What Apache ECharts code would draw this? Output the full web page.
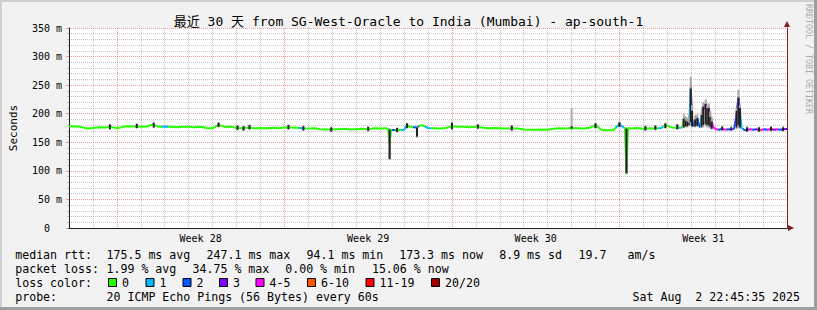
<!DOCTYPE html>
<html>
<head>
<meta charset="utf-8">
<script src="https://cdn.jsdelivr.net/npm/echarts@6/dist/echarts.min.js"></script>
<style>
html,body{margin:0;padding:0;background:#f2f2f2;}
#c{width:817px;height:310px;}
</style>
</head>
<body>
<div id="c"></div>
<script>
// ---------------- data ----------------
const titleText = '最近 30 天 from SG-West-Oracle to India (Mumbai) - ap-south-1';
const yTickValues = [0, 50, 100, 150, 200, 250, 300, 350];
const yTickLabels = ['0  ', '50 m', '100 m', '150 m', '200 m', '250 m', '300 m', '350 m'];
const weekLabels = ['Week 28', 'Week 29', 'Week 30', 'Week 31'];
const weekCenters = [5.5, 12.5, 19.5, 26.5];
const mondayDays = [2, 9, 16, 23];

// median rtt (days since left edge of graph, ms, lost pings of 20)
const medDay = [
  0,0.25,0.5,0.75,1,1.25,1.5,1.75,2,2.25,
  2.5,2.75,3,3.25,3.5,3.75,4,4.25,4.5,4.75,
  5,5.25,5.5,5.75,6,6.25,6.5,6.75,7,7.25,
  7.5,7.75,8,8.25,8.5,8.75,9,9.25,9.5,9.75,
  10,10.25,10.5,10.75,11,11.25,11.5,11.75,12,12.25,
  12.5,12.75,13,13.25,13.333,13.396,13.458,13.5,13.75,14,
  14.125,14.25,14.5,14.75,15,15.25,15.5,15.75,16,16.25,
  16.5,16.75,17,17.25,17.5,17.75,18,18.25,18.5,18.75,
  19,19.25,19.5,19.75,20,20.25,20.5,20.75,21,21.25,
  21.5,21.75,22,22.25,22.5,22.75,23,23.167,23.229,23.292,
  23.354,23.5,23.75,24,24.25,24.5,24.75,24.917,25.167,25.417,
  25.542,25.625,25.688,25.771,25.833,25.917,25.979,26.033,26.083,26.167,
  26.25,26.313,26.375,26.438,26.5,26.563,26.604,26.667,26.729,26.792,
  26.854,26.917,27.042,27.167,27.292,27.417,27.542,27.667,27.792,27.896,
  27.971,28.033,28.104,28.208,28.333,28.458,28.583,28.708,28.833,28.958,
  29.083,29.208,29.333,29.458,29.583,29.708,29.833,29.958,30
];
const medMs = [
  178,177.5,177,174,175,176.5,176,177,174.5,177,
  178,177.5,177,177.5,181,177,177.5,177,176.5,177,
  177,176.5,177,175,174.5,180.5,177,177,175.5,174.5,
  176,174.5,175,174.5,175.5,174.5,176,176,175.5,174.5,
  174,174.5,173,172.5,173,173,173.5,172.5,173,173.5,
  173,174.5,174,174.5,173,149,172,171.5,171.5,172,
  180,177,176,180,175,174.5,174,175,178,177,
  177,176.5,177,176,174.5,175,174.5,174,174.5,174,
  172.5,172,172,172.5,172,173.5,174.5,174,175,174.5,
  174,175.5,180,172,171,171.5,182,176,175,94.1,
  175,174,175,173.5,174.5,174,175,180,176,175.5,
  175.5,176,193,190,188,186,247.1,190,177,192,
  194,180,176,200,214,208,219,203,212,196,
  188,176,173,172,174,172,173,172,174,200,
  230,205,175,172,171,173,172,173,171,172,
  173,172,173.5,172,173,172,173,173.3,173.3
];
const medLoss = [
  0,0,0,0,0,0,0,0,0,0,
  0,0,0,0,0,0,1,0,0,0,
  0,0,0,0,0,0,0,0,0,0,
  0,0,0,0,0,0,0,0,0,1,
  0,0,0,0,0,0,0,0,0,0,
  0,0,0,0,0,0,0,2,0,1,
  0,0,2,0,1,0,0,0,0,0,
  0,0,0,0,0,0,0,0,0,0,
  0,0,0,0,0,0,0,0,0,0,
  0,0,0,0,0,0,1,1,0,0,
  0,0,0,0,0,0,1,0,0,0,
  1,0,1,2,2,1,4,3,2,1,
  2,2,1,4,4,3,4,4,3,4,
  4,5,4,2,4,4,2,4,2,3,
  3,2,1,2,4,4,2,3,6,4,
  2,4,11,3,4,2,3,3,3
];

// smoke (spread of the 20 pings): day, min, inner low, inner high, max (ms)
const smokeDay  = [1.708,2.833,3.542,6.25,7.042,7.292,7.542,9.167,9.792,10.958,12.5,13.396,13.708,14.125,14.542,16,17.083,18.5,21,22,23,23.292,24.083,24.5,24.917,25.417,
  25.688,25.771,25.833,25.917,25.979,26.033,26.167,26.25,26.438,26.5,26.604,26.667,26.729,26.792,26.854,27.292,27.667,27.896,27.971,28.033,28.333,28.833,29.333,29.833];
const smokeMin  = [172,174,175,176,171,170,172,172,170,168,169,119,167,174,158,172,173,170,172,174,176,95,170,171,174,172,
  175,176,176,178,180,176,176,177,175,176,178,176,176,174,172,170,170,173,175,174,168,168,169,169];
const smokeLow  = [173,175,176,177,172,171,173,173,171,169,170,121,168,175,160,173,174,171,174,175,177,96,171,172,175,173,
  176,178,178,180,185,178,178,179,177,180,182,180,180,177,174,171,171,176,180,176,169,169,170,170];
const smokeHigh = [181,182,184,184,179,178,180,180,178,176,177,172,175,183,176,184,181,179,178,183,185,174,178,179,183,181,
  191,188,186,184,244,205,190,192,198,212,217,210,210,194,186,177,176,205,228,210,176,176,177,176];
const smokeMax  = [182,183,185,185,180,179,181,181,179,177,178,175,176,184,178,186,182,180,210,184,186,176,179,180,184,182,
  199,195,193,198,265,215,198,199,207,220,225,215,218,204,195,179,178,210,242,215,178,177,178,178];

// loss colour legend
const lossLabels = ['0', '1', '2', '3', '4-5', '6-10', '11-19', '20/20'];
const lossUpper  = [0, 1, 2, 3, 5, 10, 19, 20];
const lossColors = ['#26ff00', '#00b8ff', '#0059ff', '#7e00ff', '#ff00ff', '#ff5500', '#ff0000', '#a10000'];

// legend statistics text
const rttHead = 'median rtt:';
const rttStats = ['175.5 ms avg', '247.1 ms max', '94.1 ms min', '173.3 ms now', '8.9 ms sd', '19.7', 'am/s'];
const lossHead = 'packet loss:';
const lossStats = ['1.99 % avg', '34.75 % max', '0.00 % min', '15.06 % now'];
const colorHead = 'loss color:';
const probeHead = 'probe:';
const probeText = '20 ICMP Echo Pings (56 Bytes) every 60s';
const dateText = 'Sat Aug  2 22:45:35 2025';
const watermark = 'RRDTOOL / TOBI OETIKER';

// ---------------- layout / style ----------------
const MONO = '"DejaVu Sans Mono", "Noto Sans CJK SC", monospace';
const GRID_C = 'rgba(143,143,143,0.5)';
const MGRID_C = 'rgba(222,79,79,0.55)';
const AXIS_C = '#1f1f1f';
const ARROW_C = '#801f1f';
const X_MIN = 0, X_MAX = 30;

function lossClass(n) {
  for (let k = 0; k < lossUpper.length; k++) if (n <= lossUpper[k]) return k;
  return lossUpper.length - 1;
}

const medData = medDay.map((d, i) => [d, medMs[i]]);
const smokeData = smokeDay.map((d, i) => [d, smokeMin[i], smokeLow[i], smokeHigh[i], smokeMax[i]]);

const pieces = [];
for (let i = 0; i < medDay.length; i++) {
  const lo = i === 0 ? -1 : (medDay[i - 1] + medDay[i]) / 2;
  const hi = i === medDay.length - 1 ? 31 : (medDay[i] + medDay[i + 1]) / 2;
  pieces.push({ gte: lo, lt: hi, color: lossColors[lossClass(medLoss[i])] });
}

// vertical grid colours: one per daily line, major (red) on Mondays
const vGridColors = [];
for (let d = X_MIN; d <= X_MAX; d++) vGridColors.push(mondayDays.indexOf(d) >= 0 ? MGRID_C : GRID_C);

// legend graphic elements
const FS = 11.6;
const lineY = [254.8, 268.8, 283, 296.6];
const rttX = [106.5, 206.5, 306.5, 399.2, 499.2, 578.5, 627.5];
const lossX = [106.5, 192.5, 285.2, 371.9];
const boxX = [108, 145.5, 182.5, 219, 255.5, 307, 365.5, 431];

function txt(s, x, y, size, extra) {
  return Object.assign({
    type: 'text', x: x, y: y, silent: true,
    style: { text: s, font: size + 'px ' + MONO, fill: '#000',
      align: 'left', textAlign: 'left', verticalAlign: 'middle', textVerticalAlign: 'middle' }
  }, extra || {});
}

const graphics = [];
graphics.push({ type: 'rect', silent: true, shape: { x: 0, y: 0, width: 817, height: 2 }, style: { fill: '#cfcfcf' } });
graphics.push({ type: 'rect', silent: true, shape: { x: 0, y: 0, width: 2, height: 310 }, style: { fill: '#cfcfcf' } });
graphics.push({ type: 'rect', silent: true, shape: { x: 0, y: 307, width: 817, height: 3 }, style: { fill: '#9e9e9e' } });
graphics.push({ type: 'rect', silent: true, shape: { x: 814, y: 0, width: 3, height: 310 }, style: { fill: '#9e9e9e' } });

const t = txt(titleText, 408.5, 21, 13);
t.style.align = 'center'; t.style.textAlign = 'center';
graphics.push(t);

const wm = txt(watermark, 809, 4, 8.3, { rotation: -Math.PI / 2 });
wm.style.fill = '#ababab';
graphics.push(wm);

graphics.push(txt(rttHead, 15.2, lineY[0], FS));
rttStats.forEach((s, i) => graphics.push(txt(s, rttX[i], lineY[0], FS)));
graphics.push(txt(lossHead, 15.2, lineY[1], FS));
lossStats.forEach((s, i) => graphics.push(txt(s, lossX[i], lineY[1], FS)));
graphics.push(txt(colorHead, 15.2, lineY[2], FS));
lossLabels.forEach((s, i) => {
  graphics.push({ type: 'rect', silent: true, shape: { x: boxX[i] + 0.5, y: 278.5, width: 8, height: 8 },
    style: { fill: lossColors[i], stroke: '#000', lineWidth: 1 } });
  graphics.push(txt(s, boxX[i] + 14, lineY[2], FS));
});
graphics.push(txt(probeHead, 15.2, lineY[3], FS));
graphics.push(txt(probeText, 106.5, lineY[3], FS));
graphics.push(txt(dateText, 632.5, lineY[3], FS));

// ---------------- chart ----------------
const chart = echarts.init(document.getElementById('c'), null, { renderer: 'svg' });
chart.setOption({
  animation: false,
  backgroundColor: '#f2f2f2',
  grid: { left: 67, top: 28, width: 720, height: 200, show: true, backgroundColor: '#ffffff', borderWidth: 0 },
  xAxis: [
    {
      type: 'value', min: X_MIN, max: X_MAX, interval: 1, z: 1,
      axisLine: { show: true, onZero: false, lineStyle: { color: AXIS_C, width: 1 } },
      axisTick: { show: false },
      axisLabel: { show: false },
      splitLine: { show: true, showMaxLine: false, lineStyle: { color: vGridColors, width: 1, type: [1, 1] } }
    },
    {
      type: 'value', min: X_MIN, max: X_MAX, interval: 0.5, position: 'bottom', z: 0,
      axisLine: { show: true, onZero: false, symbol: ['none', 'triangle'], symbolSize: [6, 6], symbolOffset: [0, 4],
        lineStyle: { color: ARROW_C, width: 1 } },
      axisTick: { show: false },
      splitLine: { show: false },
      axisLabel: {
        show: true, margin: 5, fontSize: 10, fontFamily: MONO, color: '#000',
        formatter: function (v) {
          const k = weekCenters.findIndex(c => Math.abs(c - v) < 1e-6);
          return k >= 0 ? weekLabels[k] : '';
        }
      }
    }
  ],
  yAxis: [
    {
      type: 'value', min: 0, max: 350, interval: 50, z: 1,
      axisLine: { show: true, onZero: false, lineStyle: { color: AXIS_C, width: 1 } },
      axisTick: { show: true, length: 3, lineStyle: { color: MGRID_C } },
      minorTick: { show: true, splitNumber: 5, length: 2, lineStyle: { color: GRID_C } },
      axisLabel: {
        margin: 7, fontSize: 10, fontFamily: MONO, color: '#000',
        formatter: function (v) { return yTickLabels[yTickValues.indexOf(v)]; }
      },
      splitLine: { show: true, lineStyle: { color: MGRID_C, width: 1, type: [1, 1] } },
      minorSplitLine: { show: true, lineStyle: { color: GRID_C, width: 1, type: [1, 1] } },
      name: 'Seconds', nameLocation: 'middle', nameRotate: 90, nameGap: 50,
      nameTextStyle: { fontSize: 11, fontFamily: MONO, color: '#000' }
    },
    {
      type: 'value', min: 0, max: 350, interval: 50, z: 0,
      axisLine: { show: true, onZero: false, symbol: ['none', 'triangle'], symbolSize: [6, 6], symbolOffset: [0, 4],
        lineStyle: { color: ARROW_C, width: 1 } },
      axisTick: { show: false }, axisLabel: { show: false }, splitLine: { show: false }
    }
  ],
  visualMap: {
    type: 'piecewise', show: false, dimension: 0, seriesIndex: 0,
    pieces: pieces, outOfRange: { color: lossColors[0] }
  },
  graphic: graphics,
  series: [
    {
      type: 'line', name: 'median', data: medData, z: 3, silent: true,
      showSymbol: false, symbol: 'none',
      lineStyle: { width: 2 }
    },
    {
      type: 'custom', name: 'smoke', z: 4, silent: true,
      data: smokeData,
      encode: { x: 0, y: [1, 2, 3, 4] },
      renderItem: function (params, api) {
        const d = api.value(0);
        const a = api.coord([d, api.value(1)]);
        const b = api.coord([d, api.value(2)]);
        const c = api.coord([d, api.value(3)]);
        const e = api.coord([d, api.value(4)]);
        const w = 2;
        return {
          type: 'group', children: [
            { type: 'rect', shape: { x: a[0] - w / 2, y: e[1], width: w, height: a[1] - e[1] }, style: { fill: '#a8a8a8' } },
            { type: 'rect', shape: { x: b[0] - w / 2, y: c[1], width: w, height: b[1] - c[1] }, style: { fill: '#202020' } }
          ]
        };
      }
    }
  ]
});
</script>
</body>
</html>
